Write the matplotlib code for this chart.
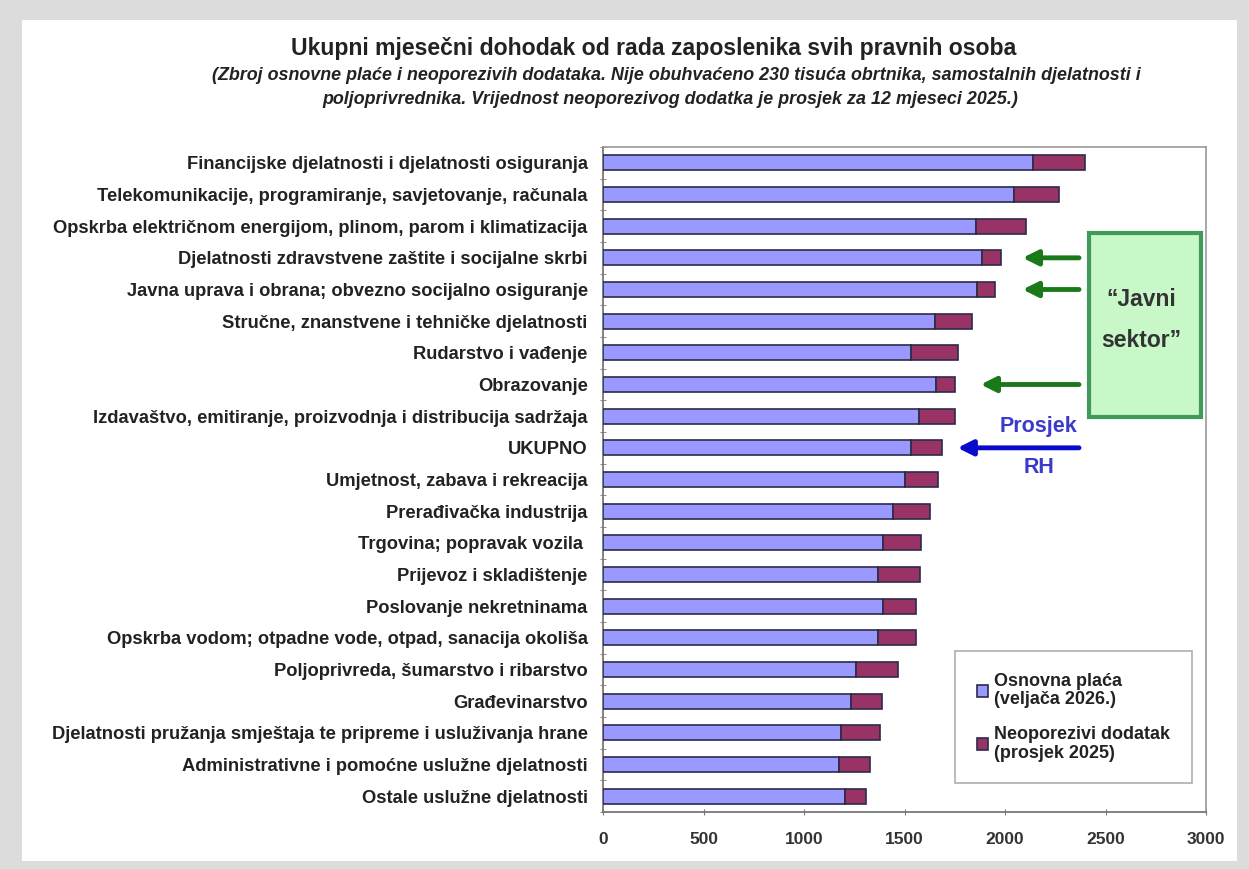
import matplotlib.pyplot as plt
from matplotlib.patches import Rectangle

plt.rcParams['font.family'] = ['Liberation Sans', 'DejaVu Sans']

# djelatnosti, od vrha prema dnu
kategorije = [
    "Financijske djelatnosti i djelatnosti osiguranja",
    "Telekomunikacije, programiranje, savjetovanje, računala",
    "Opskrba električnom energijom, plinom, parom i klimatizacija",
    "Djelatnosti zdravstvene zaštite i socijalne skrbi",
    "Javna uprava i obrana; obvezno socijalno osiguranje",
    "Stručne, znanstvene i tehničke djelatnosti",
    "Rudarstvo i vađenje",
    "Obrazovanje",
    "Izdavaštvo, emitiranje, proizvodnja i distribucija sadržaja",
    "UKUPNO",
    "Umjetnost, zabava i rekreacija",
    "Prerađivačka industrija",
    "Trgovina; popravak vozila ",
    "Prijevoz i skladištenje",
    "Poslovanje nekretninama",
    "Opskrba vodom; otpadne vode, otpad, sanacija okoliša",
    "Poljoprivreda, šumarstvo i ribarstvo",
    "Građevinarstvo",
    "Djelatnosti pružanja smještaja te pripreme i usluživanja hrane",
    "Administrativne i pomoćne uslužne djelatnosti",
    "Ostale uslužne djelatnosti",
]

# osnovna plaća (veljača 2026.)
osnovna = [2138, 2047, 1855, 1885, 1863, 1652, 1533, 1657, 1570, 1532, 1500,
           1442, 1395, 1367, 1395, 1366, 1258, 1234, 1183, 1173, 1203]
# neoporezivi dodatak (prosjek 2025)
dodatak = [260, 224, 248, 96, 89, 183, 235, 92, 179, 154, 166,
           186, 188, 211, 163, 191, 210, 156, 193, 154, 104]

x_ticks = [0, 500, 1000, 1500, 2000, 2500, 3000]

fig = plt.figure(figsize=(12.49, 8.69), dpi=100)
fig.patch.set_facecolor('#dcdcdc')
# bijela podloga
fig.patches.append(Rectangle((22 / 1249, 8 / 869), 1215 / 1249, 841 / 869,
                             transform=fig.transFigure, facecolor='white',
                             edgecolor='none', zorder=-10))

ax = fig.add_axes([603 / 1249, 57 / 869, 603 / 1249, 665 / 869])
ax.set_facecolor('none')

y = list(range(len(kategorije)))
ax.barh(y, osnovna, height=0.48, color='#9999ff', edgecolor='#2b2b4a',
        linewidth=1.2, label='Osnovna plaća\n(veljača 2026.)', zorder=3)
ax.barh(y, dodatak, left=osnovna, height=0.48, color='#993366',
        edgecolor='#2b2b4a', linewidth=1.2,
        label='Neoporezivi dodatak\n(prosjek 2025)', zorder=3)

ax.set_xlim(0, 3000)
ax.set_ylim(len(kategorije) - 0.5, -0.5)
ax.set_xticks(x_ticks)
ax.set_xticklabels([str(v) for v in x_ticks], fontsize=12.5, fontweight='bold',
                   color='#333333')
ax.set_yticks(y)
ax.set_yticklabels(kategorije, fontsize=13.2, fontweight='bold', color='#222222')
ax.tick_params(axis='y', length=0, pad=11)
ax.set_yticks([i + 0.5 for i in range(-1, len(kategorije))], minor=True)
ax.tick_params(axis='y', which='minor', length=5, direction='inout',
               color='#777777')
ax.tick_params(axis='x', length=5, direction='inout', color='#777777', pad=12)

for s in ['left', 'bottom']:
    ax.spines[s].set_color('#777777')
    ax.spines[s].set_linewidth(1.3)
for s in ['top', 'right']:
    ax.spines[s].set_color('#999999')
    ax.spines[s].set_linewidth(1.2)

# legenda
leg = ax.legend(loc='lower right', bbox_to_anchor=(0.985, 0.035),
                prop={'weight': 'bold', 'size': 13}, frameon=True,
                fancybox=False, edgecolor='#999999', handlelength=0.65,
                handleheight=0.65, handletextpad=0.3, labelspacing=1.0,
                borderpad=1.2, borderaxespad=0.3)
leg.get_frame().set_linewidth(1.2)
for t in leg.get_texts():
    t.set_color('#222222')
    t.set_linespacing(1.1)

# "Javni sektor"
ax.add_patch(Rectangle((2420, 2.22), 553, 5.8, facecolor='#c8f7c8',
                       edgecolor='#3f9a5c', linewidth=3, zorder=4))
ax.text(2680, 4.95, '“Javni\nsektor”', fontsize=16.5, fontweight='bold',
        color='#333333', ha='center', va='center', linespacing=2.0, zorder=5)

for idx, tip in [(3, 2074), (4, 2074), (7, 1865)]:
    ax.annotate('', xy=(tip, idx), xytext=(2382, idx),
                arrowprops=dict(arrowstyle='-|>,head_length=0.9,head_width=0.45',
                                color='#1a7a1a', lw=3.5), zorder=5)

# prosjek RH
ax.annotate('', xy=(1750, 9), xytext=(2382, 9),
            arrowprops=dict(arrowstyle='-|>,head_length=0.9,head_width=0.45',
                            color='#0a0acc', lw=3.5), zorder=5)
ax.text(2168, 8.33, 'Prosjek', fontsize=15.5, fontweight='bold',
        color='#3a3acc', ha='center', va='center')
ax.text(2168, 9.63, 'RH', fontsize=15.5, fontweight='bold',
        color='#3a3acc', ha='center', va='center')

fig.text(654 / 1249, 1 - 48 / 869,
         'Ukupni mjesečni dohodak od rada zaposlenika svih pravnih osoba',
         fontsize=16.6, fontweight='bold', color='#222222', ha='center',
         va='center')
fig.text(676 / 1249, 1 - 75 / 869,
         '(Zbroj osnovne plaće i neoporezivih dodataka. Nije obuhvaćeno 230 '
         'tisuća obrtnika, samostalnih djelatnosti i',
         fontsize=12.9, fontweight='bold', style='italic', color='#222222',
         ha='center', va='center')
fig.text(670 / 1249, 1 - 100 / 869,
         'poljoprivrednika. Vrijednost neoporezivog dodatka je prosjek za 12 '
         'mjeseci 2025.)',
         fontsize=12.9, fontweight='bold', style='italic', color='#222222',
         ha='center', va='center')

fig.savefig('out.png', dpi=100, facecolor=fig.get_facecolor())
